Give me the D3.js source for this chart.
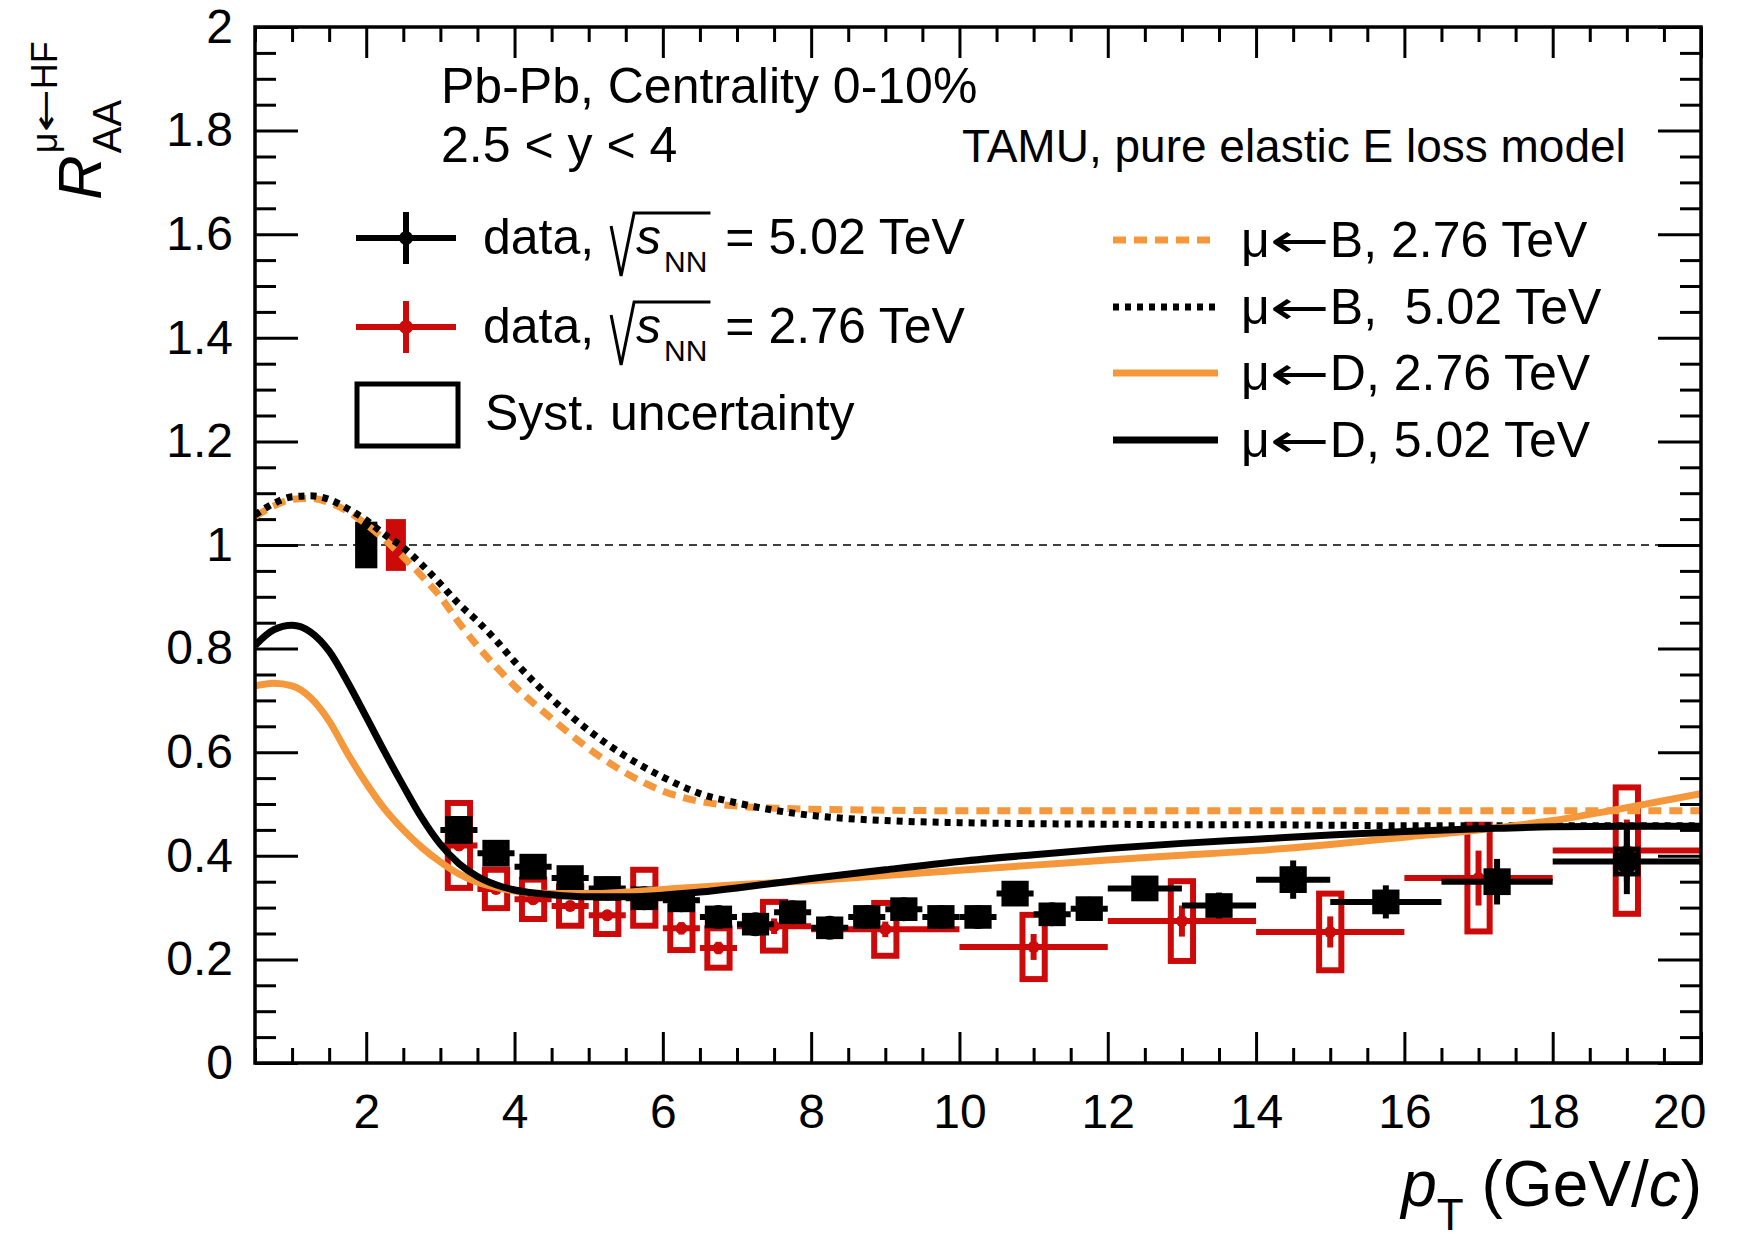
<!DOCTYPE html>
<meta charset="utf-8">
<style>
body { margin: 0; background: #fff; }
svg { display: block; }
text { font-family: "Liberation Sans", Arial, Helvetica, sans-serif; fill: #000; white-space: pre; }
.arrow { font-family: "DejaVu Sans", sans-serif; }
</style>
<svg width="1739" height="1239"></svg>
<script src="https://d3js.org/d3.v7.min.js"></script>
<script>

// ---- values ----

// TAMU model curves, all on one pT grid
var modelPt = [0.5, 0.75, 1, 1.25, 1.5, 1.75, 2, 2.25, 2.5, 2.75, 3, 3.25, 3.5, 3.75, 4, 4.5, 5, 5.5, 6, 6.5, 7, 7.5, 8, 9, 10, 11, 12, 13, 14, 15, 16, 17, 18, 19, 20];
var muB276 = [1.055, 1.075, 1.088, 1.09, 1.082, 1.065, 1.04, 1.01, 0.977, 0.94, 0.9, 0.85, 0.805, 0.765, 0.728, 0.665, 0.607, 0.56, 0.525, 0.505, 0.496, 0.492, 0.49, 0.488, 0.487, 0.487, 0.487, 0.487, 0.487, 0.487, 0.487, 0.487, 0.487, 0.487, 0.487];
var muB502 = [1.058, 1.08, 1.093, 1.095, 1.088, 1.07, 1.048, 1.02, 0.995, 0.962, 0.925, 0.886, 0.853, 0.816, 0.775, 0.703, 0.642, 0.592, 0.552, 0.52, 0.502, 0.488, 0.478, 0.468, 0.464, 0.462, 0.461, 0.46, 0.46, 0.459, 0.458, 0.458, 0.458, 0.458, 0.458];
var muD276 = [0.728, 0.733, 0.728, 0.705, 0.66, 0.597, 0.54, 0.49, 0.45, 0.416, 0.388, 0.365, 0.349, 0.339, 0.332, 0.327, 0.327, 0.33, 0.335, 0.34, 0.344, 0.348, 0.352, 0.362, 0.372, 0.382, 0.392, 0.401, 0.41, 0.422, 0.436, 0.45, 0.468, 0.493, 0.52];
var muD502 = [0.806, 0.836, 0.845, 0.832, 0.795, 0.735, 0.668, 0.6, 0.535, 0.473, 0.422, 0.385, 0.36, 0.344, 0.334, 0.325, 0.321, 0.321, 0.324, 0.33, 0.338, 0.347, 0.356, 0.373, 0.389, 0.402, 0.414, 0.424, 0.432, 0.44, 0.447, 0.452, 0.456, 0.457, 0.457];

// data, sqrt(sNN) = 5.02 TeV
var pt502   = [3.25, 3.75, 4.25, 4.75, 5.25, 5.75, 6.25, 6.75, 7.25, 7.75, 8.25, 8.75, 9.25, 9.75, 10.25, 10.75, 11.25, 11.75, 12.5, 13.5, 14.5, 15.75, 17.25, 19];
var ptLo502 = [3, 3.5, 4, 4.5, 5, 5.5, 6, 6.5, 7, 7.5, 8, 8.5, 9, 9.5, 10, 10.5, 11, 11.5, 12, 13, 14, 15, 16.5, 18];
var ptHi502 = [3.5, 4, 4.5, 5, 5.5, 6, 6.5, 7, 7.5, 8, 8.5, 9, 9.5, 10, 10.5, 11, 11.5, 12, 13, 14, 15, 16.5, 18, 20];
var raa502  = [0.45, 0.405, 0.379, 0.357, 0.337, 0.318, 0.314, 0.282, 0.268, 0.291, 0.261, 0.282, 0.297, 0.282, 0.282, 0.327, 0.287, 0.298, 0.337, 0.304, 0.354, 0.311, 0.35, 0.389];
var stat502 = [0.012, 0.012, 0.012, 0.012, 0.012, 0.012, 0.012, 0.013, 0.013, 0.013, 0.013, 0.014, 0.014, 0.014, 0.015, 0.015, 0.016, 0.017, 0.023, 0.025, 0.037, 0.032, 0.044, 0.063];
var syst502 = [0.022, 0.021, 0.02, 0.02, 0.019, 0.018, 0.018, 0.017, 0.017, 0.018, 0.017, 0.018, 0.018, 0.018, 0.018, 0.02, 0.018, 0.019, 0.02, 0.019, 0.021, 0.019, 0.021, 0.024];

// data, sqrt(sNN) = 2.76 TeV
var pt276   = [3.25, 3.75, 4.25, 4.75, 5.25, 5.75, 6.25, 6.75, 7.5, 9, 11, 13, 15, 17, 19];
var ptLo276 = [3, 3.5, 4, 4.5, 5, 5.5, 6, 6.5, 7, 8, 10, 12, 14, 16, 18];
var ptHi276 = [3.5, 4, 4.5, 5, 5.5, 6, 6.5, 7, 8, 10, 12, 14, 16, 18, 20];
var raa276  = [0.42, 0.336, 0.316, 0.303, 0.285, 0.319, 0.26, 0.222, 0.264, 0.258, 0.224, 0.274, 0.253, 0.357, 0.41];
var stat276 = [0.01, 0.01, 0.01, 0.01, 0.01, 0.01, 0.012, 0.012, 0.015, 0.015, 0.025, 0.03, 0.03, 0.053, 0.06];
var syst276 = [0.082, 0.037, 0.038, 0.038, 0.036, 0.054, 0.042, 0.038, 0.047, 0.051, 0.062, 0.077, 0.074, 0.103, 0.122];

// normalisation uncertainty boxes drawn at unity (5.02 TeV, 2.76 TeV)
var normLo  = [1.85, 2.265];
var normHi  = [2.15, 2.535];
var normErr = [0.045, 0.05];

// tick values
var xMajor = [2, 4, 6, 8, 10, 12, 14, 16, 18, 20];
var xMinor = d3.range(1, 40).map(function(i) { return i / 2; }).filter(function(v) { return v % 2 !== 0; });
var yMajor = d3.range(0, 11).map(function(i) { return i / 5; });
var yMinor = d3.range(1, 40).map(function(i) { return i / 20; }).filter(function(v, i) { return (i + 1) % 4 !== 0; });

// ---- drawing ----
var svg = d3.select("svg"),
    width = +svg.attr("width"),
    height = +svg.attr("height");
var frame = {left: 255, right: 1701, top: 27, bottom: 1063};
var RED = "#cc0a0a", ORANGE = "#f5973b";

var x = d3.scaleLinear().domain([0.5, 20]).range([frame.left, frame.right]);
var y = d3.scaleLinear().domain([0, 2]).range([frame.bottom, frame.top]);

svg.append("rect").attr("width", width).attr("height", height).attr("fill", "#fff");

svg.append("clipPath").attr("id", "clip")
  .append("rect")
    .attr("x", frame.left).attr("y", frame.top)
    .attr("width", frame.right - frame.left).attr("height", frame.bottom - frame.top);

function styleAxis(g) {
  g.select(".domain").remove();
  g.attr("font-family", null).attr("font-size", 48);
  g.selectAll(".tick line").attr("stroke", "#000").attr("stroke-width", 3);
}
var fmt = function(d) { return String(+d.toFixed(1)); };

// x axis (bottom with labels, top mirrored)
var xAxisG = svg.append("g").attr("transform", "translate(0," + frame.bottom + ")")
  .call(d3.axisBottom(x).tickValues(xMajor).tickSize(-31).tickPadding(31).tickFormat(fmt))
  .call(styleAxis);
xAxisG.selectAll(".tick").filter(function(d) { return d === 20; }).select("text")
  .attr("text-anchor", "end").attr("x", 5);
svg.append("g").attr("transform", "translate(0," + frame.bottom + ")")
  .call(d3.axisBottom(x).tickValues(xMinor).tickSize(-15).tickFormat(""))
  .call(styleAxis);
svg.append("g").attr("transform", "translate(0," + frame.top + ")")
  .call(d3.axisTop(x).tickValues(xMajor).tickSize(-31).tickFormat(""))
  .call(styleAxis);
svg.append("g").attr("transform", "translate(0," + frame.top + ")")
  .call(d3.axisTop(x).tickValues(xMinor).tickSize(-15).tickFormat(""))
  .call(styleAxis);

// y axis (left with labels, right mirrored)
svg.append("g").attr("transform", "translate(" + frame.left + ",0)")
  .call(d3.axisLeft(y).tickValues(yMajor).tickSize(-43).tickPadding(22).tickFormat(fmt))
  .call(styleAxis);
svg.append("g").attr("transform", "translate(" + frame.left + ",0)")
  .call(d3.axisLeft(y).tickValues(yMinor).tickSize(-21).tickFormat(""))
  .call(styleAxis);
svg.append("g").attr("transform", "translate(" + frame.right + ",0)")
  .call(d3.axisRight(y).tickValues(yMajor).tickSize(-43).tickFormat(""))
  .call(styleAxis);
svg.append("g").attr("transform", "translate(" + frame.right + ",0)")
  .call(d3.axisRight(y).tickValues(yMinor).tickSize(-21).tickFormat(""))
  .call(styleAxis);

var plot = svg.append("g").attr("clip-path", "url(#clip)");

// line at unity
plot.append("line")
    .attr("x1", x(0.5)).attr("x2", x(20)).attr("y1", y(1)).attr("y2", y(1))
    .attr("stroke", "#000").attr("stroke-width", 1.6).attr("stroke-dasharray", "8,6");

// normalisation boxes
[ "#000", RED ].forEach(function(c, i) {
  plot.append("rect")
      .attr("x", x(normLo[i])).attr("width", x(normHi[i]) - x(normLo[i]))
      .attr("y", y(1 + normErr[i])).attr("height", y(1 - normErr[i]) - y(1 + normErr[i]))
      .attr("fill", c);
});

function drawData(pt, lo, hi, raa, stat, syst, color, boxStroke, barWidth, r) {
  var g = plot.append("g");
  var idx = d3.range(pt.length);
  g.selectAll("rect.syst").data(idx).enter().append("rect")
      .attr("x", function(i) { return x(pt[i] - 0.15); })
      .attr("width", function(i) { return x(pt[i] + 0.15) - x(pt[i] - 0.15); })
      .attr("y", function(i) { return y(raa[i] + syst[i]); })
      .attr("height", function(i) { return y(raa[i] - syst[i]) - y(raa[i] + syst[i]); })
      .attr("fill", "none").attr("stroke", color).attr("stroke-width", boxStroke);
  g.selectAll("line.h").data(idx).enter().append("line")
      .attr("x1", function(i) { return x(lo[i]); })
      .attr("x2", function(i) { return x(hi[i]); })
      .attr("y1", function(i) { return y(raa[i]); })
      .attr("y2", function(i) { return y(raa[i]); })
      .attr("stroke", color).attr("stroke-width", barWidth);
  g.selectAll("line.v").data(idx).enter().append("line")
      .attr("x1", function(i) { return x(pt[i]); })
      .attr("x2", function(i) { return x(pt[i]); })
      .attr("y1", function(i) { return y(raa[i] - stat[i]); })
      .attr("y2", function(i) { return y(raa[i] + stat[i]); })
      .attr("stroke", color).attr("stroke-width", barWidth);
  g.selectAll("circle").data(idx).enter().append("circle")
      .attr("cx", function(i) { return x(pt[i]); })
      .attr("cy", function(i) { return y(raa[i]); })
      .attr("r", r).attr("fill", color);
}
drawData(pt276, ptLo276, ptHi276, raa276, stat276, syst276, RED, 6, 6, 6);
drawData(pt502, ptLo502, ptHi502, raa502, stat502, syst502, "#000", 5, 6, 12);

// model curves
var line = d3.line()
    .x(function(d) { return x(d[0]); })
    .y(function(d) { return y(d[1]); })
    .curve(d3.curveMonotoneX);
var models = [
  {vals: muB276, color: ORANGE, dash: "13,8", label: ["\u03bc", "B, 2.76 TeV"]},
  {vals: muB502, color: "#000", dash: "6,6", label: ["\u03bc", "B,  5.02 TeV"]},
  {vals: muD276, color: ORANGE, dash: null, label: ["\u03bc", "D, 2.76 TeV"]},
  {vals: muD502, color: "#000", dash: null, label: ["\u03bc", "D, 5.02 TeV"]}
];
models.forEach(function(m) {
  plot.append("path")
      .datum(modelPt.map(function(p, i) { return [p, m.vals[i]]; }))
      .attr("d", line)
      .attr("fill", "none")
      .attr("stroke", m.color)
      .attr("stroke-width", 7)
      .attr("stroke-dasharray", m.dash);
});

// frame
svg.append("rect")
    .attr("x", frame.left).attr("y", frame.top)
    .attr("width", frame.right - frame.left).attr("height", frame.bottom - frame.top)
    .attr("fill", "none").attr("stroke", "#000").attr("stroke-width", 3.5);

// ---- texts ----
function piece(g, str, px, py, size, italic) {
  var t = g.append("text").attr("x", px).attr("y", py).attr("font-size", size).text(str);
  if (italic) t.attr("font-style", "italic");
  return px + t.node().getComputedTextLength();
}
// "mu <- X" text, the arrow stretched to a wider glyph like the original
function arrowText(g, parts, px, py, size) {
  var cx = piece(g, parts[0], px, py, size);
  g.append("text").attr("class", "arrow").attr("x", cx).attr("y", py)
      .attr("font-size", size * 0.95)
      .attr("textLength", size * 1.2).attr("lengthAdjust", "spacingAndGlyphs")
      .text("\u2190");
  return piece(g, parts[1], cx + size * 1.2, py, size);
}

svg.append("text").attr("x", 441).attr("y", 103).attr("font-size", 50).text("Pb-Pb, Centrality 0-10%");
svg.append("text").attr("x", 441).attr("y", 162).attr("font-size", 50).text("2.5 < y < 4");
svg.append("text").attr("x", 962).attr("y", 162).attr("font-size", 46).text("TAMU, pure elastic E loss model");

// left legend: data
function dataEntry(cy, color, energy) {
  svg.append("line").attr("x1", 356).attr("x2", 456).attr("y1", cy).attr("y2", cy)
      .attr("stroke", color).attr("stroke-width", 6);
  svg.append("line").attr("x1", 406).attr("x2", 406).attr("y1", cy - 26).attr("y2", cy + 26)
      .attr("stroke", color).attr("stroke-width", 6);
  svg.append("circle").attr("cx", 406).attr("cy", cy).attr("r", 7).attr("fill", color);
  var g = svg.append("g");
  var yb = cy + 16;
  var cx = piece(g, "data, ", 483, yb, 50);
  var rx = cx + 3;
  cx = piece(g, "s", rx + 25, yb, 50, true);
  cx = piece(g, "NN", cx + 3, yb + 18, 30);
  g.append("path")
      .attr("d", "M" + rx + "," + (yb - 28) + "L" + (rx + 10) + "," + (yb + 22) +
                 "L" + (rx + 23) + "," + (yb - 41) + "L" + (cx + 3) + "," + (yb - 41))
      .attr("fill", "none").attr("stroke", "#000").attr("stroke-width", 3);
  piece(g, " = " + energy + " TeV", cx + 4, yb, 50);
}
dataEntry(238, "#000", "5.02");
dataEntry(327, RED, "2.76");
svg.append("rect").attr("x", 357).attr("y", 384).attr("width", 101).attr("height", 62)
    .attr("fill", "none").attr("stroke", "#000").attr("stroke-width", 5);
svg.append("text").attr("x", 485).attr("y", 430).attr("font-size", 50).text("Syst. uncertainty");

// right legend: model curves
var legRows = [240, 307, 373, 440];
models.forEach(function(m, i) {
  svg.append("line").attr("x1", 1113).attr("x2", 1218).attr("y1", legRows[i]).attr("y2", legRows[i])
      .attr("stroke", m.color).attr("stroke-width", 7).attr("stroke-dasharray", m.dash);
  arrowText(svg, m.label, 1241, legRows[i] + 17, 50);
});

// y axis title, rotated
var yt = svg.append("g").attr("transform", "translate(101,200) rotate(-90)");
var ex = piece(yt, "R", 0, 0, 62, true);
piece(yt, "AA", ex + 2, 20, 40);
arrowText(yt, ["\u03bc", "HF"], ex + 2, -44, 36);

// x axis title, right-aligned to the frame
var xt = svg.append("g");
var xe = piece(xt, "p", 0, 1206, 64, true);
xe = piece(xt, "T", xe, 1230, 44);
xe = piece(xt, " (GeV/", xe, 1206, 64);
xe = piece(xt, "c", xe, 1206, 64, true);
xe = piece(xt, ")", xe, 1206, 64);
xt.attr("transform", "translate(" + (frame.right + 1 - xe) + ",0)");

</script>
